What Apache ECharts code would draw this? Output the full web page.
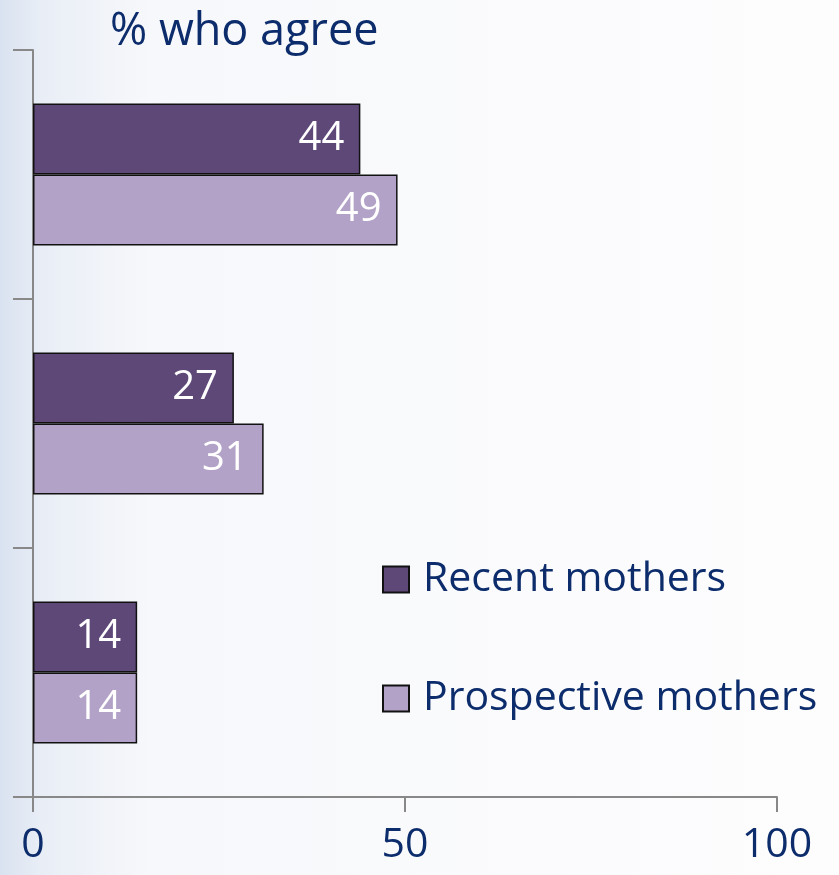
<!DOCTYPE html>
<html>
<head>
<meta charset="utf-8">
<script src="https://cdn.jsdelivr.net/npm/echarts@6/dist/echarts.min.js"></script>
<style>
  html, body { margin: 0; padding: 0; }
  #chart { width: 839px; height: 875px; }
</style>
</head>
<body>
<div id="chart"></div>
<script>
const categories = ['A', 'B', 'C']
const recentMothers = [44, 27, 14]
const prospectiveMothers = [49, 31, 14]
const xTicks = [0, 50, 100]

const navy = '#0c2c6c'
const font = 'Open Sans'
const myChart = echarts.init(document.getElementById('chart'))

const option = {
  backgroundColor: {
    type: 'linear', x: 0, y: 0, x2: 1, y2: 0,
    colorStops: [
      { offset: 0, color: '#d9e2f0' },
      { offset: 0.05, color: '#e9eef6' },
      { offset: 0.18, color: '#f7f8fb' },
      { offset: 1, color: '#fdfdfe' }
    ]
  },
  textStyle: { fontFamily: font },
  title: {
    text: '% who agree',
    left: 105,
    top: 5,
    textStyle: { fontFamily: font, fontSize: 45, fontWeight: 'normal', color: navy }
  },
  legend: {
    orient: 'vertical',
    left: 382,
    top: 559,
    padding: 0,
    itemWidth: 26,
    itemHeight: 26,
    itemGap: 78,
    icon: 'rect',
    textStyle: { fontFamily: font, fontSize: 41, color: navy, padding: [0, 0, 0, 9] },
    data: ['Recent mothers', 'Prospective mothers']
  },
  grid: { left: 33, right: 62, top: 50, bottom: 78 },
  xAxis: {
    type: 'value',
    min: 0,
    max: 100,
    interval: 50,
    splitLine: { show: false },
    axisLine: { show: true, lineStyle: { color: '#888', width: 2 } },
    axisTick: { show: true, length: 15, lineStyle: { color: '#888', width: 2 } },
    axisLabel: {
      fontFamily: font, fontSize: 41, color: navy, margin: 28,
      formatter: v => xTicks.includes(v) ? String(v) : ''
    }
  },
  yAxis: {
    type: 'category',
    inverse: true,
    data: categories,
    axisLine: { show: true, lineStyle: { color: '#888', width: 2 } },
    axisTick: { show: true, length: 20, lineStyle: { color: '#888', width: 2 } },
    axisLabel: { show: false }
  },
  series: [
    {
      name: 'Recent mothers',
      type: 'bar',
      data: recentMothers,
      barGap: '0%',
      barCategoryGap: '43%',
      itemStyle: { color: '#5e4878', borderColor: '#111', borderWidth: 1.5 },
      label: {
        show: true, position: 'insideRight', distance: 16,
        fontFamily: font, fontSize: 40, color: '#fff'
      }
    },
    {
      name: 'Prospective mothers',
      type: 'bar',
      data: prospectiveMothers,
      itemStyle: { color: '#b2a2c7', borderColor: '#111', borderWidth: 1.5 },
      label: {
        show: true, position: 'insideRight', distance: 16,
        fontFamily: font, fontSize: 40, color: '#fff'
      }
    }
  ]
}

option && myChart.setOption(option)
</script>
</body>
</html>
